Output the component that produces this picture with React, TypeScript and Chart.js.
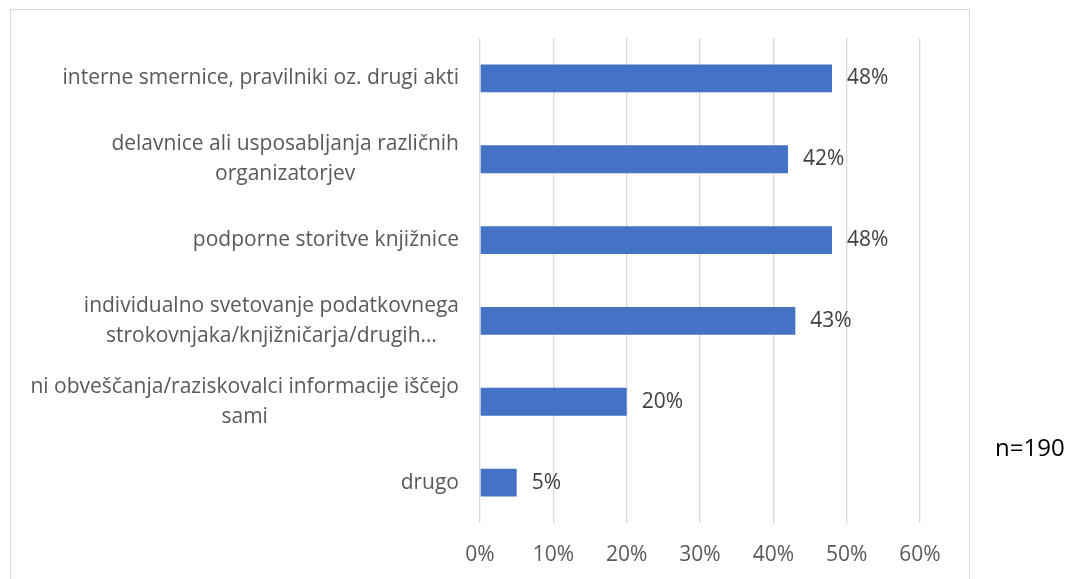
import React, { useEffect, useRef } from "react";
import { Chart, registerables } from "chart.js";

Chart.register(...registerables);

const categories: string[][] = [
  ["interne smernice, pravilniki oz. drugi akti"],
  ["delavnice ali usposabljanja različnih", "organizatorjev"],
  ["podporne storitve knjižnice"],
  ["individualno svetovanje podatkovnega", "strokovnjaka/knjižničarja/drugih…"],
  ["ni obveščanja/raziskovalci informacije iščejo", "sami"],
  ["drugo"],
];
const values: number[] = [48, 42, 48, 43, 20, 5];
const xTicks: number[] = [0, 10, 20, 30, 40, 50, 60];
const note = "n=190";

const FONT = "'Open Sans'";
const LABEL_SIZE = 21;

const decorPlugin = {
  id: "decor",
  beforeDraw(chart: any) {
    const ctx = chart.ctx;
    ctx.save();
    ctx.strokeStyle = "#D9D9D9";
    ctx.lineWidth = 1;
    ctx.strokeRect(10.5, 9.5, 959, 620);
    ctx.restore();
  },
  afterDraw(chart: any) {
    const ctx = chart.ctx;
    const yScale = chart.scales.y;
    const xScale = chart.scales.x;
    ctx.save();
    ctx.font = `${LABEL_SIZE}px ${FONT}`;
    ctx.fillStyle = "#595959";
    ctx.textBaseline = "middle";
    ctx.textAlign = "center";
    const right = 459;
    const lineH = 30;
    categories.forEach((lines, i) => {
      const cy = yScale.getPixelForValue(i);
      const w = Math.max(...lines.map((l) => ctx.measureText(l).width));
      const cx = right - w / 2;
      const y0 = cy - ((lines.length - 1) * lineH) / 2;
      lines.forEach((l, j) => ctx.fillText(l, cx, y0 + j * lineH));
    });
    ctx.fillStyle = "#404040";
    ctx.textAlign = "left";
    values.forEach((v, i) => {
      const x = xScale.getPixelForValue(v) + 15;
      const y = yScale.getPixelForValue(i);
      ctx.fillText(v + "%", x, y);
    });
    ctx.fillStyle = "#000000";
    ctx.font = `24px ${FONT}`;
    ctx.fillText(note, 995, 449);
    ctx.restore();
  },
};

export default function App() {
  const ref = useRef<HTMLCanvasElement | null>(null);
  useEffect(() => {
    document.body.style.margin = "0";
    const chart = new Chart(ref.current as HTMLCanvasElement, {
      type: "bar",
      data: {
        labels: categories,
        datasets: [
          {
            data: values,
            backgroundColor: "#4472C4",
            barPercentage: 0.345,
            categoryPercentage: 1,
          },
        ],
      },
      options: {
        indexAxis: "y",
        animation: false,
        responsive: true,
        maintainAspectRatio: false,
        layout: { padding: { top: 38, right: 155, left: 0, bottom: 0 } },
        plugins: { legend: { display: false }, tooltip: { enabled: false } },
        scales: {
          x: {
            type: "linear",
            min: xTicks[0],
            max: xTicks[xTicks.length - 1],
            afterBuildTicks: (scale: any) => {
              scale.ticks = xTicks.map((v) => ({ value: v }));
            },
            ticks: {
              callback: (v: any) => v + "%",
              color: "#595959",
              font: { family: FONT, size: LABEL_SIZE },
              padding: 19,
            },
            grid: { color: "#D9D9D9", lineWidth: 1.3, drawTicks: false },
            border: { display: false },
            afterFit: (scale: any) => {
              scale.height = 56;
            },
          },
          y: {
            ticks: { display: false },
            grid: { display: false },
            border: { display: false },
            afterFit: (scale: any) => {
              scale.width = 480;
            },
          },
        },
      },
      plugins: [decorPlugin],
    } as any);
    return () => chart.destroy();
  }, []);
  return (
    <div style={{ position: "absolute", left: 0, top: 0, width: 1075, height: 579 }}>
      <canvas ref={ref} />
    </div>
  );
}
